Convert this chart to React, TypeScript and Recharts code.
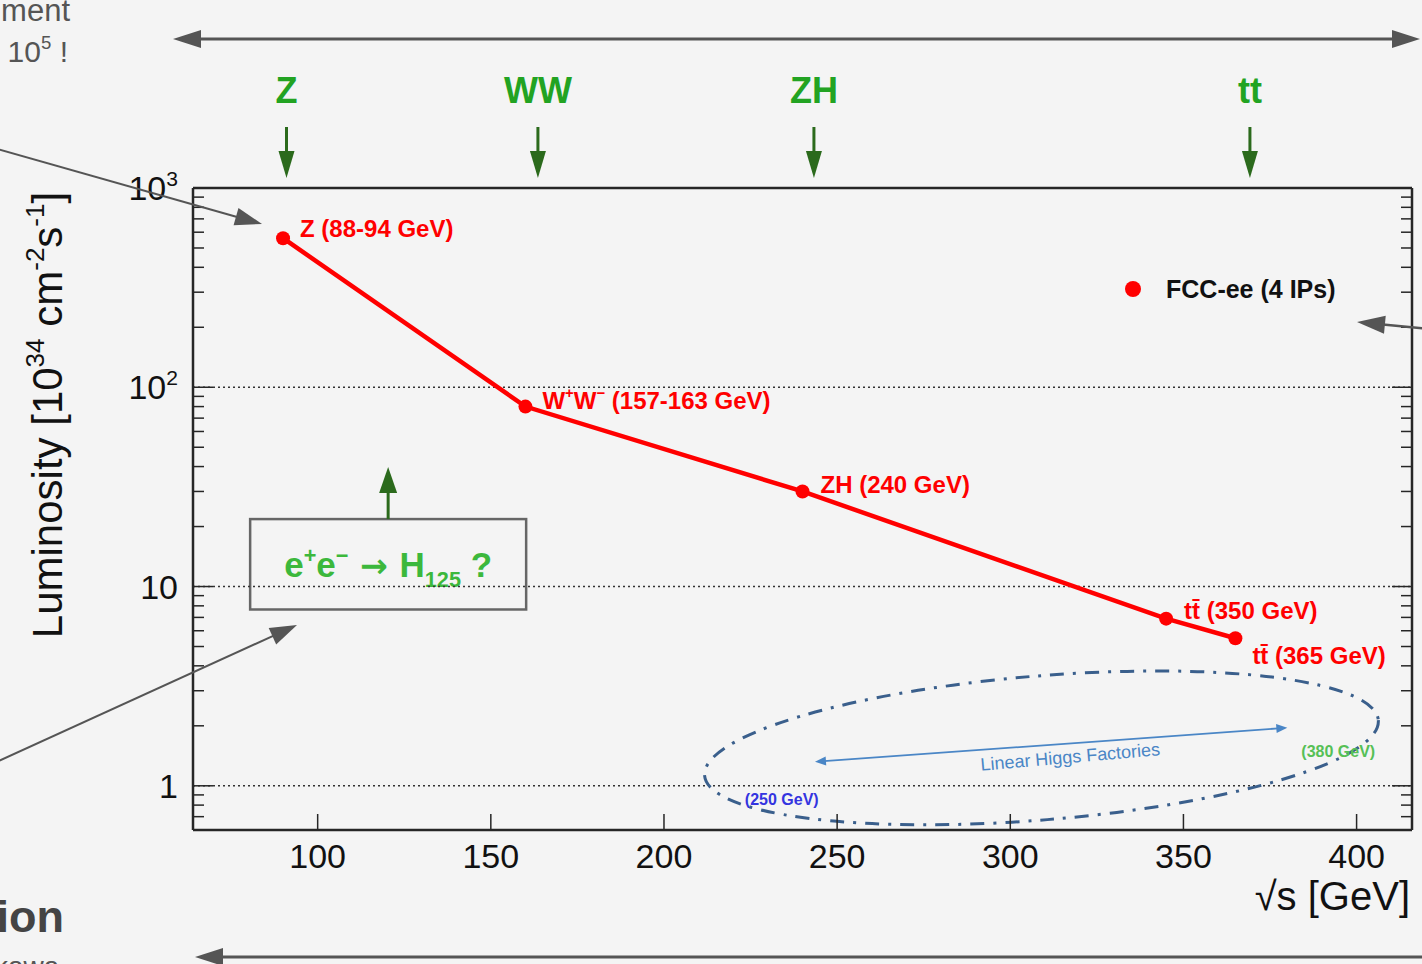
import React from 'react';
import {
  ComposedChart, Line, XAxis, YAxis, ReferenceLine, ReferenceArea, ReferenceDot,
  LabelList, Legend,
} from 'recharts';

const FONT = '"Liberation Sans", Arial, Helvetica, sans-serif';
const AXIS = '#262626';
const RED = '#ff0000';
const GREEN = '#22a322';
const DARK_GREEN = '#2b6a1c';
const GRAY = '#555555';

// FCC-ee luminosity per energy point
const energies = [90, 160, 240, 345, 365];
const luminosity = [560, 80, 30, 6.9, 5.5];
const pointLabels = [
  'Z (88-94 GeV)',
  'W^+W^− (157-163 GeV)',
  'ZH (240 GeV)',
  'tt̄ (350 GeV)',
  'tt̄ (365 GeV)',
];

const X_TICKS = [100, 150, 200, 250, 300, 350, 400];
const Y_TICKS = [
  0.7, 0.8, 0.9,
  1, 2, 3, 4, 5, 6, 7, 8, 9,
  10, 20, 30, 40, 50, 60, 70, 80, 90,
  100, 200, 300, 400, 500, 600, 700, 800, 900,
  1000,
];
const Y_LABELS: Record<string, string> = { 1: '1', 10: '10', 100: '10^2', 1000: '10^3' };
const GRID_LEVELS = [1, 10, 100];

// production thresholds marked above the frame
const thresholdNames = ['Z', 'WW', 'ZH', 'tt'];
const thresholdEnergies = [91, 163.6, 243.3, 369.2];

// offsets of the point labels from their dots (px)
const LABEL_OFFSETS = [[17, -9], [17, -6], [18, -6], [18, -8], [17, 18]];

const data = energies.map((e, i) => ({ e, lumi: luminosity[i], label: pointLabels[i] }));

// ^x / ^{xy} superscript, _x / _{xy} subscript
function richText(text: string, size: number) {
  const parts = text.split(/(\^\{[^}]*\}|_\{[^}]*\}|\^.|_.)/).filter((p) => p !== '');
  let shift = 0;
  return parts.map((p, i) => {
    let target = 0;
    let content = p;
    let fs = size;
    if (p[0] === '^' || p[0] === '_') {
      content = p[1] === '{' ? p.slice(2, -1) : p.slice(1);
      target = p[0] === '^' ? -0.42 * size : 0.28 * size;
      fs = size * 0.62;
    }
    const dy = target - shift;
    shift = target;
    return <tspan key={i} dy={dy} fontSize={fs}>{content}</tspan>;
  });
}

function head(x1: number, y1: number, x2: number, y2: number, len: number, half: number) {
  const a = Math.atan2(y2 - y1, x2 - x1);
  const bx = x2 - len * Math.cos(a);
  const by = y2 - len * Math.sin(a);
  const px = -Math.sin(a) * half;
  const py = Math.cos(a) * half;
  return `${x2},${y2} ${bx + px},${by + py} ${bx - px},${by - py}`;
}

function Arrow({ x1, y1, x2, y2, color, w = 3, len = 26, half = 9, both = false }: any) {
  const a = Math.atan2(y2 - y1, x2 - x1);
  const ex = x2 - (len - 2) * Math.cos(a);
  const ey = y2 - (len - 2) * Math.sin(a);
  const sx = both ? x1 + (len - 2) * Math.cos(a) : x1;
  const sy = both ? y1 + (len - 2) * Math.sin(a) : y1;
  return (
    <g>
      <line x1={sx} y1={sy} x2={ex} y2={ey} stroke={color} strokeWidth={w} />
      <polygon points={head(x1, y1, x2, y2, len, half)} fill={color} />
      {both && <polygon points={head(x2, y2, x1, y1, len, half)} fill={color} />}
    </g>
  );
}

function BottomTick({ x, y, payload }: any) {
  return (
    <g>
      <line x1={x} x2={x} y1={y} y2={y - 16} stroke={AXIS} strokeWidth={1.5} />
      <text x={x} y={y + 38} textAnchor="middle" fontSize={34} fontFamily={FONT} fill="#111">
        {payload.value}
      </text>
    </g>
  );
}

function TopTick({ x, y }: any) {
  return <line x1={x} x2={x} y1={y} y2={y + 16} stroke={AXIS} strokeWidth={1.5} />;
}

function LeftTick({ x, y, payload }: any) {
  const label = Y_LABELS[payload.value];
  const len = label ? 20 : 11;
  return (
    <g>
      <line x1={x} x2={x + len} y1={y} y2={y} stroke={AXIS} strokeWidth={1.5} />
      {label && (
        <text x={x - 15} y={y + 12} textAnchor="end" fontSize={34} fontFamily={FONT} fill="#111">
          {richText(label, 34)}
        </text>
      )}
    </g>
  );
}

function RightTick({ x, y, payload }: any) {
  const len = Y_LABELS[payload.value] ? 20 : 11;
  return <line x1={x} x2={x - len} y1={y} y2={y} stroke={AXIS} strokeWidth={1.5} />;
}

function PointLabel({ x, y, value, index }: any) {
  const [dx, dy] = LABEL_OFFSETS[index] || [16, -8];
  return (
    <text x={x + dx} y={y + dy + 8} fontSize={24} fontWeight={700} fontFamily={FONT} fill={RED}>
      {richText(String(value), 24)}
    </text>
  );
}

const thresholdShape = (name: string) => (p: any) => {
  const x = p.x1;
  const top = Math.min(p.y1, p.y2);
  const tip = top - 10;
  const start = top - 61;
  return (
    <g>
      <line x1={x} x2={x} y1={start} y2={tip - 22} stroke={DARK_GREEN} strokeWidth={3} />
      <polygon points={`${x},${tip} ${x - 8},${tip - 27} ${x + 8},${tip - 27}`} fill={DARK_GREEN} />
      <text x={x} y={start - 24} textAnchor="middle" fontSize={36} fontWeight={700}
        fontFamily={FONT} fill={GREEN}>
        {name}
      </text>
    </g>
  );
};

function HiggsBox(p: any) {
  const { x, y, width, height } = p;
  const cx = x + width / 2;
  const s = 35;
  return (
    <g>
      <rect x={x} y={y} width={width} height={height} fill="none" stroke="#666" strokeWidth={2.5} />
      <Arrow x1={cx} y1={y} x2={cx} y2={y - 52} color={DARK_GREEN} w={3} len={26} half={9} />
      <text x={cx} y={y + height / 2 + 13} textAnchor="middle" fontSize={s} fontWeight={700}
        fontFamily={FONT} fill="#3cb83c">
        <tspan>e</tspan>
        <tspan dy={-0.42 * s} fontSize={s * 0.62}>+</tspan>
        <tspan dy={0.42 * s}>e</tspan>
        <tspan dy={-0.42 * s} fontSize={s * 0.62}>−</tspan>
        <tspan dy={0.42 * s} fontFamily='"DejaVu Sans", sans-serif' fontSize={s * 0.95}> → </tspan>
        <tspan>H</tspan>
        <tspan dy={0.28 * s} fontSize={s * 0.62}>125</tspan>
        <tspan dy={-0.28 * s}> ?</tspan>
      </text>
    </g>
  );
}

function LinearEllipse({ cx, cy }: any) {
  return (
    <ellipse cx={cx} cy={cy} rx={338} ry={72} fill="none" stroke="#3a5f8c" strokeWidth={3}
      strokeDasharray="14 9 3 9" transform={`rotate(-4.7 ${cx} ${cy})`} />
  );
}

function LinearArrow(p: any) {
  return <Arrow x1={p.x1} y1={p.y1} x2={p.x2} y2={p.y2} color="#4a86c6" w={1.8} len={11} half={4.5} both />;
}

const textDot = (txt: string, color: string, size: number, bold: boolean, angle = 0) => ({ cx, cy }: any) => (
  <text x={cx} y={cy + size * 0.35} textAnchor="middle" fontSize={size} fontWeight={bold ? 700 : 400}
    fontFamily={FONT} fill={color} transform={angle ? `rotate(${angle} ${cx} ${cy})` : undefined}>
    {txt}
  </text>
);

function LegendContent({ payload }: any) {
  return (
    <div style={{ fontFamily: FONT }}>
      {(payload || []).map((entry: any) => (
        <div key={entry.value} style={{ display: 'flex', alignItems: 'center', fontSize: 25, fontWeight: 700, color: '#111', lineHeight: '30px', whiteSpace: 'nowrap' }}>
          <span style={{ display: 'inline-block', width: 16, height: 16, borderRadius: 8, background: entry.color, marginRight: 25 }} />
          {entry.value}
        </div>
      ))}
    </div>
  );
}

function YLabel({ viewBox }: any) {
  const x = viewBox.x - 51;
  const y = viewBox.y + 227;
  return (
    <text x={0} y={0} transform={`translate(${x} ${y}) rotate(-90)`} textAnchor="middle"
      fontSize={42} fontFamily={FONT} fill="#111">
      {richText('Luminosity [10^{34} cm^{-2}s^{-1}]', 42)}
    </text>
  );
}

function XLabel({ viewBox }: any) {
  return (
    <text x={viewBox.x + viewBox.width - 2} y={viewBox.y + 80} textAnchor="end" fontSize={40}
      fontFamily={FONT} fill="#111">
      √s [GeV]
    </text>
  );
}

export default function App() {
  return (
    <div style={{ position: 'absolute', left: 0, top: 0, width: 1422, height: 964, background: '#f4f4f4', overflow: 'hidden' }}>
      <ComposedChart width={1422} height={964} data={data}
        margin={{ top: 168, right: 0, bottom: 94, left: 113 }}>
        <XAxis dataKey="e" type="number" domain={[64, 416]} allowDataOverflow ticks={X_TICKS}
          interval={0} tickSize={0} tickMargin={0} tick={BottomTick} height={40}
          axisLine={{ stroke: AXIS, strokeWidth: 2.5 }} label={{ content: XLabel }} />
        <XAxis xAxisId="top" orientation="top" type="number" domain={[64, 416]} allowDataOverflow
          ticks={X_TICKS} interval={0} tickSize={0} tickMargin={0} tick={TopTick} height={20}
          axisLine={{ stroke: AXIS, strokeWidth: 2.5 }} />
        <YAxis type="number" scale="log" domain={[0.6, 1000]} allowDataOverflow ticks={Y_TICKS}
          interval={0} tickSize={0} tickMargin={0} tick={LeftTick} width={80}
          axisLine={{ stroke: AXIS, strokeWidth: 2.5 }} label={{ content: YLabel }} />
        <YAxis yAxisId="right" orientation="right" type="number" scale="log" domain={[0.6, 1000]}
          allowDataOverflow ticks={Y_TICKS} interval={0} tickSize={0} tickMargin={0} tick={RightTick}
          width={10} axisLine={{ stroke: AXIS, strokeWidth: 2.5 }} />

        {GRID_LEVELS.map((v) => (
          <ReferenceLine key={v} y={v} stroke="#333" strokeWidth={1.5} strokeDasharray="2 3" />
        ))}

        {thresholdNames.map((n, i) => (
          <ReferenceLine key={n} x={thresholdEnergies[i]} ifOverflow="visible" shape={thresholdShape(n)} />
        ))}

        <ReferenceArea x1={80.5} x2={160.2} y1={7.67} y2={21.8} ifOverflow="visible" shape={HiggsBox} />

        <ReferenceDot x={309} y={1.55} ifOverflow="visible" shape={LinearEllipse} />
        <ReferenceLine segment={[{ x: 243.6, y: 1.32 }, { x: 380, y: 1.955 }]} ifOverflow="visible" shape={LinearArrow} />
        <ReferenceDot x={317.3} y={1.4} ifOverflow="visible" shape={textDot('Linear Higgs Factories', '#4a86c6', 18, false, -5)} />
        <ReferenceDot x={234} y={0.85} ifOverflow="visible" shape={textDot('(250 GeV)', '#3434e0', 16, true)} />
        <ReferenceDot x={394.7} y={1.48} ifOverflow="visible" shape={textDot('(380 GeV)', '#56c056', 16, true)} />

        <Line dataKey="lumi" name="FCC-ee (4 IPs)" type="linear" stroke={RED} strokeWidth={4.5}
          dot={{ r: 7, fill: RED, stroke: 'none' }} activeDot={false} isAnimationActive={false}>
          <LabelList dataKey="label" content={PointLabel} />
        </Line>

        <Legend layout="horizontal" verticalAlign="middle" align="center" content={LegendContent}
          wrapperStyle={{ position: 'absolute', left: 1125, top: 274, width: 'auto', height: 'auto' }} />
      </ComposedChart>

      <svg width={1422} height={964} style={{ position: 'absolute', left: 0, top: 0, pointerEvents: 'none' }}>
        <text x={70} y={21} textAnchor="end" fontSize={31} fontFamily={FONT} fill={GRAY}>ment</text>
        <text x={68} y={62} textAnchor="end" fontSize={30} fontFamily={FONT} fill={GRAY}>
          {richText('10^5 !', 30)}
        </text>
        <text x={64} y={932} textAnchor="end" fontSize={45} fontWeight={700} fontFamily={FONT} fill="#444">ion</text>
        <text x={-6} y={976} fontSize={28} fontFamily={FONT} fill={GRAY}>kawa</text>

        <Arrow x1={173} y1={39} x2={1420} y2={39} color={GRAY} w={3} len={28} half={9} both />
        <Arrow x1={1440} y1={957} x2={195} y2={957} color={GRAY} w={3} len={28} half={9} />
        <Arrow x1={-10} y1={147} x2={262} y2={224} color={GRAY} w={2} len={27} half={9} />
        <Arrow x1={-10} y1={765} x2={297} y2={625} color={GRAY} w={2} len={27} half={9} />
        <Arrow x1={1440} y1={330} x2={1357} y2={322} color={GRAY} w={2.5} len={28} half={9} />
      </svg>
    </div>
  );
}
